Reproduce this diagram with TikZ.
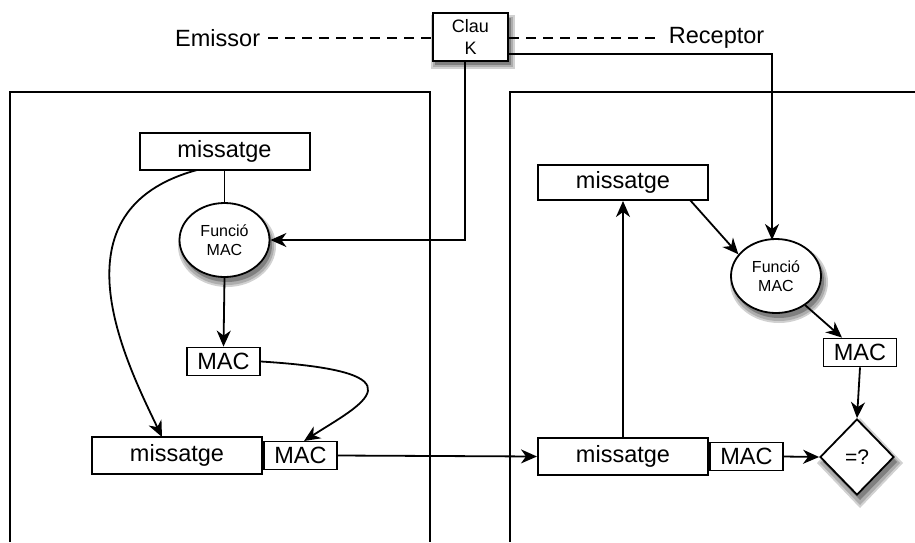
\documentclass[tikz,border=0pt]{standalone}
\usepackage{fontspec}
\setmainfont{Liberation Sans}
\usetikzlibrary{arrows.meta,shapes.geometric}
\begin{document}
\begin{tikzpicture}[x=1pt,y=-1pt,
  line width=1.8pt,
  arr/.style={-{Stealth[length=16pt,width=14pt,inset=5pt]}},
  mbox/.style={draw,line width=2pt,inner sep=0pt,minimum width=170pt,minimum height=37pt,font=\fontsize{23.5}{26}\selectfont},
  macbox/.style={draw,line width=1.8pt,inner sep=0pt,minimum width=73pt,minimum height=28pt,font=\fontsize{23.5}{26}\selectfont},
  fn/.style={draw,ellipse,fill=white,line width=1.8pt,inner sep=0pt,minimum width=90pt,minimum height=74pt,align=center,font=\fontsize{16}{19}\selectfont},
  shA/.style={black!18},
  shB/.style={black!32},
  shC/.style={black!50},
  lbl/.style={font=\fontsize{23.5}{26}\selectfont,inner sep=0pt},
  dsh/.style={dash pattern=on 10pt off 7pt,line width=1.4pt}
]
\useasboundingbox (0,0) rectangle (915,542);

% soft shadows (drawn first)
\fill[shA] (227,246) ellipse [x radius=49pt, y radius=41pt];
\fill[shB] (227,246) ellipse [x radius=47pt, y radius=39pt];
\fill[shC] (227,245) ellipse [x radius=45pt, y radius=37pt];
\fill[shA] (779,282) ellipse [x radius=49pt, y radius=41pt];
\fill[shB] (779,282) ellipse [x radius=47pt, y radius=39pt];
\fill[shC] (779,281) ellipse [x radius=45pt, y radius=37pt];
\fill[shA] (431,15) rectangle (515,69);
\fill[shB] (433,17) rectangle (513,67);
\fill[shC] (435,18) rectangle (511,65);
\fill[shA] (817,463) -- (860,418) -- (903,463) -- (860,508) -- cycle;
\fill[shB] (820,463) -- (860,421) -- (900,463) -- (860,505) -- cycle;
\fill[shC] (823,462) -- (860,424) -- (897,462) -- (860,500) -- cycle;

% panels
\draw (10,542) -- (10,92) -- (430,92) -- (430,542);
\draw (510,542) -- (510,92) -- (915,92);

% key
\node[draw,fill=white,line width=2pt,minimum width=75pt,minimum height=48pt,inner sep=0pt,align=center,font=\fontsize{18}{22}\selectfont] (clau) at (470.5,37) {Clau\\K};
\node[lbl,anchor=east] (emi) at (261,38) {Emissor};
\node[lbl,anchor=west] (rec) at (668,38) {Receptor};
\draw[dsh] (emi.east) ++(7,0) coordinate (e1) -- (e1 -| clau.west);
\draw[dsh] (clau.east |- 0,38) coordinate (r0) -- ++(152,0);

% left side
\node[mbox] (m1) at (224.5,151.5) {missatge};
\node[fn] (f1) at (224.5,240) {Funció\\MAC};
\node[macbox] (mac1) at (223.5,361.5) {MAC};
\node[mbox] (m2) at (177,455.5) {missatge};
\node[macbox,anchor=west] (mac2) at (m2.east) {MAC};

\draw (m1.south) -- (f1.north);
\draw[arr] (f1.south) -- (mac1.north);
\draw[arr] (197,170) .. controls (50,210) and (125,360) .. (162,437);
\draw[arr] (mac1.east) .. controls (430,372) and (360,405) .. (304,441);

% key lines
\draw[arr] (465,61) -- (465,240) -- (f1.east);

% right side
\node[mbox,minimum height=35pt] (m4) at (623,182.5) {missatge};
\node[fn] (f2) at (776,276) {Funció\\MAC};
\node[macbox] (mac4) at (860,352.5) {MAC};
\node[mbox] (m3) at (623,456.5) {missatge};
\node[macbox,anchor=west] (mac3) at (m3.east) {MAC};
\node[draw,diamond,fill=white,line width=1.8pt,inner sep=0pt,minimum width=74pt,minimum height=76pt,font=\fontsize{21}{23}\selectfont] (cmp) at (857,457) {=?};

\draw[arr] (clau.east |- 0,54) -- (772,54) -- (772,240);
\draw[arr] (mac2.east) -- (m3.west);
\draw[arr] (mac3.east) -- (cmp.west);
\draw[arr] (mac4.south) -- (cmp.north);
\draw[arr] (m3.north) -- (m4.south);
\draw[arr] (690,200) -- (f2.150);
\draw[arr] (f2.-45) -- (mac4.north -| 842,0);
\end{tikzpicture}
\end{document}
